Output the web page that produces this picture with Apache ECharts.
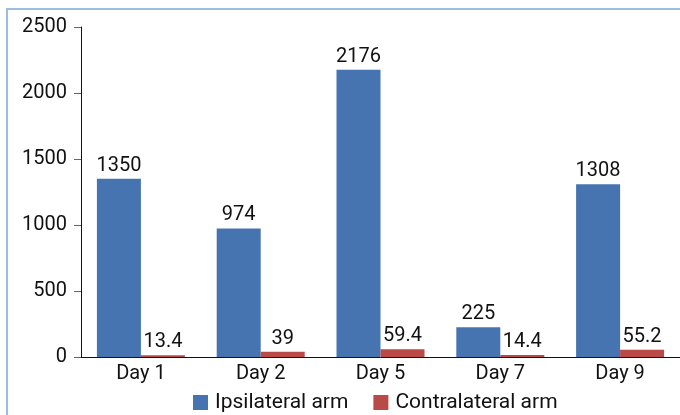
<!DOCTYPE html>
<html>
<head>
<meta charset="utf-8">
<script src="https://cdn.jsdelivr.net/npm/echarts@6/dist/echarts.min.js"></script>
<style>
  html, body { margin: 0; padding: 0; background: #fff; }
  #frame {
    position: absolute; left: 6px; top: 8px; width: 700px; height: 440px;
    border-left: 2px solid #9dbde0; border-top: 2px solid #9dbde0;
  }
  #chart { position: absolute; left: 0; top: 0; width: 680px; height: 415px; }
</style>
</head>
<body>
<div id="frame"></div>
<div id="chart"></div>
<script>
const days = ['Day 1', 'Day 2', 'Day 5', 'Day 7', 'Day 9']
const ipsilateral = [1350, 974, 2176, 225, 1308]
const contralateral = [13.4, 39, 59.4, 14.4, 55.2]

const chart = echarts.init(document.getElementById('chart'))
const font = 'Roboto, sans-serif'

const option = {
  animation: false,
  textStyle: { fontFamily: font },
  grid: { left: 81, top: 27, width: 600, height: 330 },
  legend: {
    top: 392,
    left: 193,
    padding: 0,
    itemWidth: 15,
    itemHeight: 15,
    itemGap: 25,
    icon: 'rect',
    textStyle: { fontSize: 21, color: '#111', fontFamily: font, padding: [0, 0, 0, 2] },
    data: ['Ipsilateral arm', 'Contralateral arm']
  },
  xAxis: {
    type: 'category',
    data: days,
    axisLine: { lineStyle: { color: '#111', width: 1 } },
    axisTick: { show: false },
    axisLabel: { fontSize: 20, color: '#111', margin: 7 }
  },
  yAxis: {
    type: 'value',
    min: 0,
    max: 2500,
    interval: 500,
    splitLine: { show: false },
    axisLine: { show: true, lineStyle: { color: '#111', width: 1 } },
    axisTick: { show: true, length: 7, lineStyle: { color: '#666' } },
    axisLabel: { fontSize: 20, color: '#111', margin: 14, formatter: v => String(v) }
  },
  series: [
    {
      name: 'Ipsilateral arm',
      type: 'bar',
      data: ipsilateral,
      barWidth: 44,
      barGap: 0,
      itemStyle: { color: '#4674b1' },
      label: { show: true, position: 'top', fontSize: 20, color: '#111', distance: 3 }
    },
    {
      name: 'Contralateral arm',
      type: 'bar',
      data: contralateral,
      barWidth: 44,
      barGap: 0,
      itemStyle: { color: '#b94a47' },
      label: { show: true, position: 'top', fontSize: 20, color: '#111', distance: 3 }
    }
  ]
}

chart.setOption(option)
</script>
</body>
</html>
